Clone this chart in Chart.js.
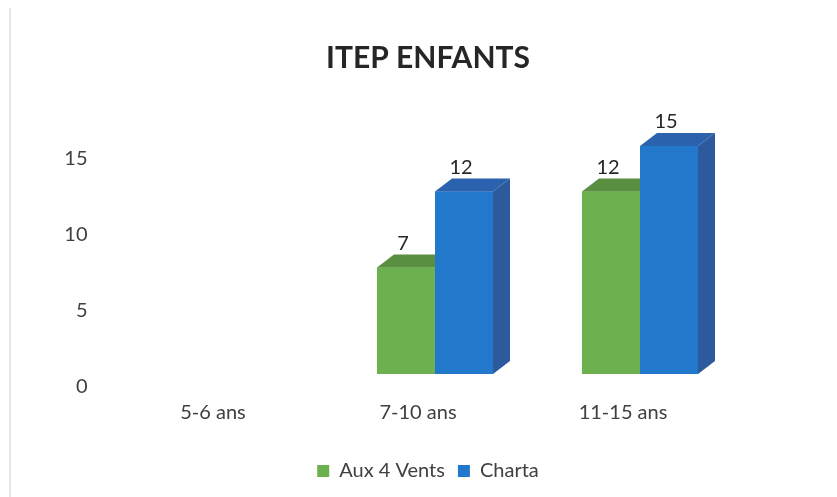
<!DOCTYPE html>
<html>
<head>
<meta charset="utf-8">
<script src="https://cdn.jsdelivr.net/npm/chart.js@4/dist/chart.umd.min.js"></script>
<style>
    html, body { margin: 0; padding: 0; background: #fff; }
    #moldura { position: relative; width: 837px; height: 497px; }
    #moldura::before { content: ''; position: absolute; left: 9px; top: 8px; bottom: 0; width: 2px; background: #e6e6e6; }
    canvas { display: block; }
</style>
</head>
<body>
<div id="moldura"><canvas id="myChart" width="837" height="497"></canvas></div>
<script>
// --- DADOS ---
const categorias = ['5-6 ans', '7-10 ans', '11-15 ans'];
const valoresAux4Vents = [null, 7, 12];
const valoresCharta = [null, 12, 15];
const ticksY = [0, 5, 10, 15];

// Cores: frente, topo, lateral
const coresAux = ['#6cb04f', '#5a8f42', '#4f7d39'];
const coresCharta = ['#2279cc', '#2a62ad', '#2d5a9c'];

// profundidade do efeito 3D
const PROF_X = 17;
const PROF_Y = 13;

const fonte = 'Lato, "Open Sans", sans-serif';

// --- PLUGIN 3D: redesenha frente, topo e lateral na ordem das séries ---
const barras3D = {
    id: 'barras3D',
    afterDatasetsDraw(chart) {
        const ctx = chart.ctx;
        chart.data.datasets.forEach((ds, d) => {
            const cores = d === 0 ? coresAux : coresCharta;
            chart.getDatasetMeta(d).data.forEach((barra, i) => {
                if (ds.data[i] == null) return;
                const { x, y, base, width } = barra.getProps(['x', 'y', 'base', 'width'], true);
                const esq = x - width / 2;
                const dir = x + width / 2;
                ctx.save();
                // frente
                ctx.fillStyle = cores[0];
                ctx.fillRect(esq, y, width, base - y);
                // topo
                ctx.fillStyle = cores[1];
                ctx.beginPath();
                ctx.moveTo(esq, y);
                ctx.lineTo(esq + PROF_X, y - PROF_Y);
                ctx.lineTo(dir + PROF_X, y - PROF_Y);
                ctx.lineTo(dir, y);
                ctx.closePath();
                ctx.fill();
                // lateral
                ctx.fillStyle = cores[2];
                ctx.beginPath();
                ctx.moveTo(dir, y);
                ctx.lineTo(dir + PROF_X, y - PROF_Y);
                ctx.lineTo(dir + PROF_X, base - PROF_Y);
                ctx.lineTo(dir, base);
                ctx.closePath();
                ctx.fill();
                ctx.restore();
            });
        });

        // rótulos de valor acima das barras
        ctx.save();
        ctx.font = `20px ${fonte}`;
        ctx.fillStyle = '#262626';
        ctx.textAlign = 'center';
        ctx.textBaseline = 'middle';
        chart.data.datasets.forEach((ds, d) => {
            chart.getDatasetMeta(d).data.forEach((barra, i) => {
                if (ds.data[i] == null) return;
                ctx.fillText(String(ds.data[i]), barra.x - 3, barra.y - 24);
            });
        });
        ctx.restore();
    }
};

document.addEventListener('DOMContentLoaded', function () {
    const ctx = document.getElementById('myChart').getContext('2d');

    new Chart(ctx, {
        type: 'bar',
        data: {
            labels: categorias,
            datasets: [
                { label: 'Aux 4 Vents', data: valoresAux4Vents, backgroundColor: coresAux[0] },
                { label: 'Charta', data: valoresCharta, backgroundColor: coresCharta[0] }
            ]
        },
        options: {
            responsive: false,
            animation: false,
            events: [],
            categoryPercentage: 0.566,
            barPercentage: 1,
            layout: { padding: { left: 19, right: 0, top: 0, bottom: 6 } },
            scales: {
                x: {
                    grid: { display: false, drawTicks: false },
                    border: { display: false },
                    ticks: {
                        color: '#404040',
                        font: { family: fonte, size: 20 },
                        padding: 27,
                        labelOffset: -17
                    },
                    afterFit(scale) { scale.height = 74; }
                },
                y: {
                    min: 0,
                    max: 15,
                    grid: { display: false, drawTicks: false },
                    border: { display: false },
                    afterBuildTicks(scale) { scale.ticks = ticksY.map(v => ({ value: v })); },
                    ticks: {
                        color: '#404040',
                        font: { family: fonte, size: 20 },
                        padding: 40,
                        labelOffset: 13
                    },
                    afterFit(scale) { scale.width = 108.5; }
                },
                // eixo vazio à direita só para reservar espaço
                direita: {
                    position: 'right',
                    grid: { display: false, drawTicks: false },
                    border: { display: false },
                    ticks: { display: false },
                    afterFit(scale) { scale.width = 94.5; }
                }
            },
            plugins: {
                title: {
                    display: true,
                    text: 'ITEP ENFANTS',
                    color: '#262626',
                    font: { family: fonte, size: 30, weight: 'bold' },
                    padding: { top: 40, bottom: 70 }
                },
                legend: {
                    position: 'bottom',
                    labels: {
                        boxWidth: 12,
                        boxHeight: 12,
                        padding: 13,
                        color: '#404040',
                        font: { family: fonte, size: 20 }
                    }
                },
                tooltip: { enabled: false }
            }
        },
        plugins: [barras3D]
    });
});
</script>
</body>
</html>
